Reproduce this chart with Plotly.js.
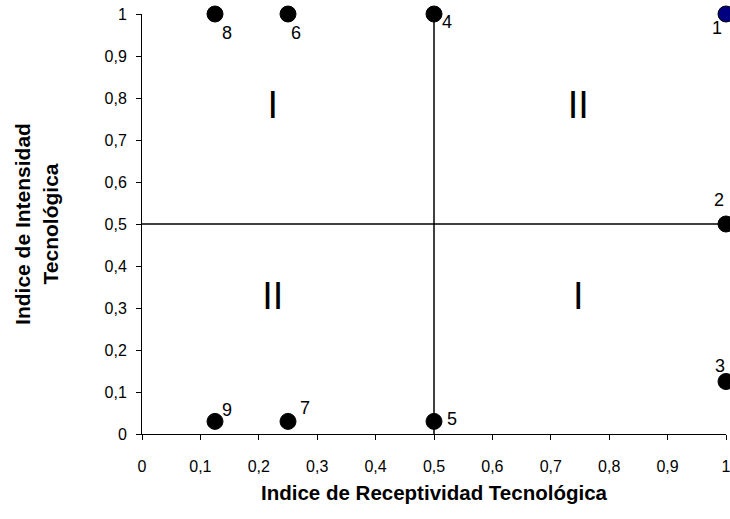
<!DOCTYPE html>
<html><head><meta charset="utf-8">
<script src="https://cdn.plot.ly/plotly-3.0.1.min.js"></script>
<style>body{margin:0;background:#fff}#c{width:730px;height:519px}</style>
</head><body><div id="c"></div>
<script>
var labels = ["1","2","3","4","5","6","7","8","9"];
var xVals = [1, 1, 1, 0.5, 0.5, 0.25, 0.25, 0.125, 0.125];
var yVals = [1, 0.5, 0.125, 1, 0.03, 1, 0.03, 1, 0.03];
var fillColors = ["#000080","#000000","#000000","#000000","#000000","#000000","#000000","#000000","#000000"];
var vLineX = [0.5, 0.5], vLineY = [0, 1];
var hLineX = [0, 1], hLineY = [0.5, 0.5];
var quadLabels = ["I","II","II","I"];
var quadX = [0.224, 0.747, 0.224, 0.747];
var quadY = [0.775, 0.775, 0.32, 0.32];
var xTicks = [0,0.1,0.2,0.3,0.4,0.5,0.6,0.7,0.8,0.9,1];
var xTickText = ["0","0,1","0,2","0,3","0,4","0,5","0,6","0,7","0,8","0,9","1"];

// label offsets (pixels) relative to each marker
var labDX = [-9, -7, -6, 13, 18, 8, 17, 12, 12];
var labDY = [-14, 24, 16, -8, 2, -19, 13, -19, 11];

var F = "Liberation Sans, Arial, sans-serif";
var traces = [
 {x:vLineX,y:vLineY,mode:"lines",line:{color:"#000",width:1.5},hoverinfo:"skip",showlegend:false,cliponaxis:false},
 {x:hLineX,y:hLineY,mode:"lines",line:{color:"#000",width:1.5},hoverinfo:"skip",showlegend:false,cliponaxis:false},
 {x:quadX,y:quadY,mode:"text",text:quadLabels,textfont:{size:38,color:"#000",family:F},showlegend:false,cliponaxis:false},
 {x:xVals,y:yVals,mode:"markers",
  marker:{size:16,color:fillColors,line:{color:"#000",width:1}},showlegend:false,cliponaxis:false}
];
var annotations = labels.map(function(t,i){
  return {x:xVals[i],y:yVals[i],text:t,showarrow:false,xshift:labDX[i],yshift:labDY[i],
    font:{size:18,color:"#000",family:F},xanchor:"center",yanchor:"middle"};
});
var layout = {
 width:730,height:519,margin:{l:142,r:4,t:14,b:85},
 paper_bgcolor:"#fff",plot_bgcolor:"#fff",
 font:{family:F,color:"#000",size:16},
 annotations:annotations,
 xaxis:{range:[0,1],tickvals:xTicks,ticktext:xTickText,showgrid:false,zeroline:false,
   showline:true,linecolor:"#000",linewidth:1,ticks:"outside",ticklen:5,tickcolor:"#000",
   tickfont:{size:16,family:F},ticklabelstandoff:13,ticklabeloverflow:"allow",
   title:{text:"<b>Indice de Receptividad Tecnológica</b>",font:{size:20.5,family:F},standoff:11}},
 yaxis:{range:[0,1],tickvals:xTicks,ticktext:xTickText,showgrid:false,zeroline:false,
   showline:true,linecolor:"#000",linewidth:1,ticks:"outside",ticklen:5,tickcolor:"#000",
   tickfont:{size:16,family:F},ticklabelstandoff:6,ticklabeloverflow:"allow",
   title:{text:"<b>Indice de Intensidad<br>Tecnológica</b>",font:{size:21,family:F},standoff:40}}
};
Plotly.newPlot("c",traces,layout,{displayModeBar:false,staticPlot:true});
</script></body></html>
